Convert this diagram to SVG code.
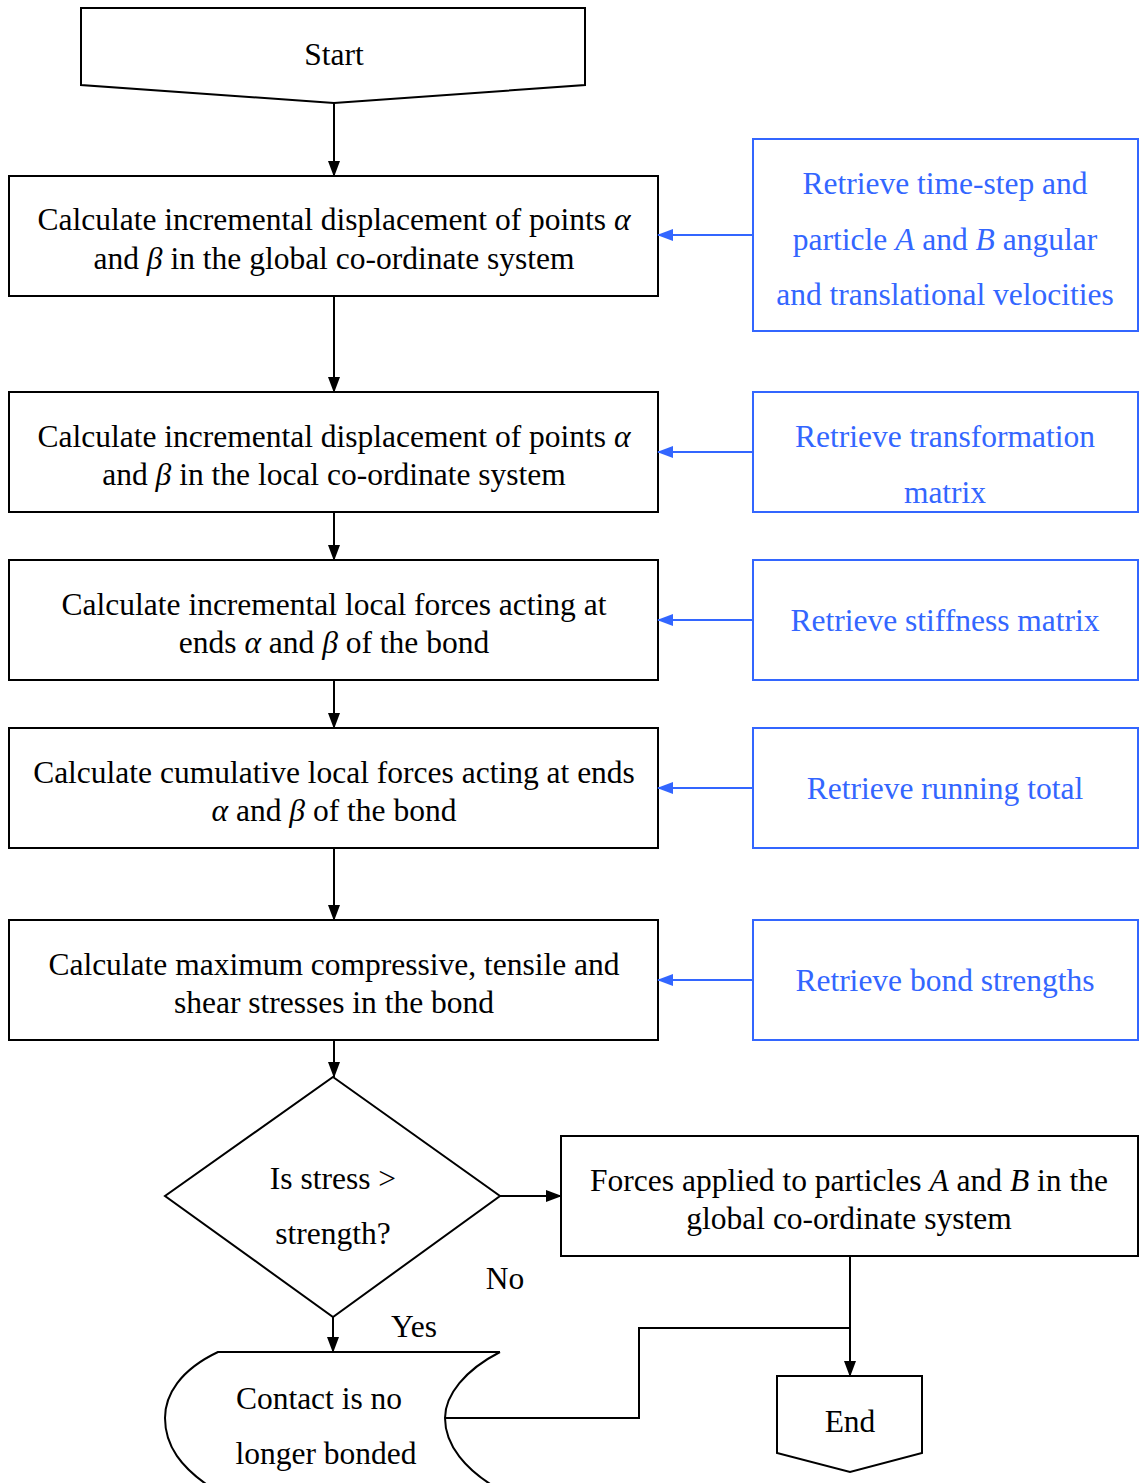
<svg xmlns="http://www.w3.org/2000/svg" width="1139" height="1483" viewBox="0 0 1139 1483">
<defs>
<marker id="ahb" markerWidth="16" markerHeight="12" refX="15" refY="6" orient="auto" markerUnits="userSpaceOnUse"><path d="M0,0 L16,6 L0,12 Z" fill="#3366ff"/></marker>
<marker id="ahk" markerWidth="16" markerHeight="12" refX="15" refY="6" orient="auto" markerUnits="userSpaceOnUse"><path d="M0,0 L16,6 L0,12 Z" fill="#000"/></marker>
<style>
.n{fill:#fff;stroke:#000;stroke-width:2}
.b{fill:#fff;stroke:#3366ff;stroke-width:2}
.t{font-family:"Liberation Serif","Times New Roman",serif;font-size:31.5px;fill:#000;text-anchor:middle;dominant-baseline:central}
.tb{font-family:"Liberation Serif","Times New Roman",serif;font-size:31.5px;fill:#3366ff;text-anchor:middle;dominant-baseline:central}
.i{font-style:italic}
.c{fill:none;stroke:#000;stroke-width:2}
.cb{fill:none;stroke:#3366ff;stroke-width:2}
</style>
</defs>
<g id="start">
<polygon class="n" points="81,8 585,8 585,85 334,103 81,85"/>
<text class="t" x="334" y="54">Start</text>
</g>
<g id="step1">
<rect class="n" x="9" y="176" width="649" height="120"/>
<text class="t" x="334" y="219">Calculate incremental displacement of points <tspan class="i">α</tspan></text>
<text class="t" x="334" y="258">and <tspan class="i">β</tspan> in the global co-ordinate system</text>
</g>
<g id="step2">
<rect class="n" x="9" y="392" width="649" height="120"/>
<text class="t" x="334" y="436">Calculate incremental displacement of points <tspan class="i">α</tspan></text>
<text class="t" x="334" y="474">and <tspan class="i">β</tspan> in the local co-ordinate system</text>
</g>
<g id="step3">
<rect class="n" x="9" y="560" width="649" height="120"/>
<text class="t" x="334" y="604">Calculate incremental local forces acting at</text>
<text class="t" x="334" y="642">ends <tspan class="i">α</tspan> and <tspan class="i">β</tspan> of the bond</text>
</g>
<g id="step4">
<rect class="n" x="9" y="728" width="649" height="120"/>
<text class="t" x="334" y="772">Calculate cumulative local forces acting at ends</text>
<text class="t" x="334" y="810"><tspan class="i">α</tspan> and <tspan class="i">β</tspan> of the bond</text>
</g>
<g id="step5">
<rect class="n" x="9" y="920" width="649" height="120"/>
<text class="t" x="334" y="964">Calculate maximum compressive, tensile and</text>
<text class="t" x="334" y="1002">shear stresses in the bond</text>
</g>
<g id="decision">
<polygon class="n" points="333,1077 500,1196 333,1317 165,1196"/>
<text class="t" x="333" y="1178">Is stress &gt;</text>
<text class="t" x="333" y="1233">strength?</text>
</g>
<g id="forces">
<rect class="n" x="561" y="1136" width="577" height="120"/>
<text class="t" x="849" y="1180">Forces applied to particles <tspan class="i">A</tspan> and <tspan class="i">B</tspan> in the</text>
<text class="t" x="849" y="1218">global co-ordinate system</text>
</g>
<g id="contact">
<path class="c" d="M500,1352 H218 C180,1370 165,1395 165,1418 C165,1445 180,1468 215,1490 M500,1352 C465,1370 445,1395 445,1418 C445,1445 465,1470 500,1490"/>
<text class="t" x="319" y="1398">Contact is no</text>
<text class="t" x="326" y="1453">longer bonded</text>
</g>
<g id="end">
<polygon class="n" points="777,1376 922,1376 922,1453 850,1472 777,1453"/>
<text class="t" x="850" y="1421">End</text>
</g>
<g id="r1">
<rect class="b" x="753" y="139" width="385" height="192"/>
<text class="tb" x="945" y="183">Retrieve time-step and</text>
<text class="tb" x="945" y="239">particle <tspan class="i">A</tspan> and <tspan class="i">B</tspan> angular</text>
<text class="tb" x="945" y="294">and translational velocities</text>
</g>
<g id="r2">
<rect class="b" x="753" y="392" width="385" height="120"/>
<text class="tb" x="945" y="436">Retrieve transformation</text>
<text class="tb" x="945" y="492">matrix</text>
</g>
<g id="r3">
<rect class="b" x="753" y="560" width="385" height="120"/>
<text class="tb" x="945" y="620">Retrieve stiffness matrix</text>
</g>
<g id="r4">
<rect class="b" x="753" y="728" width="385" height="120"/>
<text class="tb" x="945" y="788">Retrieve running total</text>
</g>
<g id="r5">
<rect class="b" x="753" y="920" width="385" height="120"/>
<text class="tb" x="945" y="980">Retrieve bond strengths</text>
</g>
<g id="connectors">
<path class="c" d="M334,103 V176" marker-end="url(#ahk)"/>
<path class="c" d="M334,296 V392" marker-end="url(#ahk)"/>
<path class="c" d="M334,512 V560" marker-end="url(#ahk)"/>
<path class="c" d="M334,680 V728" marker-end="url(#ahk)"/>
<path class="c" d="M334,848 V920" marker-end="url(#ahk)"/>
<path class="c" d="M334,1040 V1077" marker-end="url(#ahk)"/>
<path class="c" d="M500,1196 H561" marker-end="url(#ahk)"/>
<path class="c" d="M333,1317 V1352" marker-end="url(#ahk)"/>
<path class="c" d="M850,1256 V1376" marker-end="url(#ahk)"/>
<path class="c" d="M445,1418 H639 V1328 H850"/>
<path class="cb" d="M753,235 H658" marker-end="url(#ahb)"/>
<path class="cb" d="M753,452 H658" marker-end="url(#ahb)"/>
<path class="cb" d="M753,620 H658" marker-end="url(#ahb)"/>
<path class="cb" d="M753,788 H658" marker-end="url(#ahb)"/>
<path class="cb" d="M753,980 H658" marker-end="url(#ahb)"/>
<text class="t" x="505" y="1278">No</text>
<text class="t" x="414" y="1326">Yes</text>
</g>
</svg>
